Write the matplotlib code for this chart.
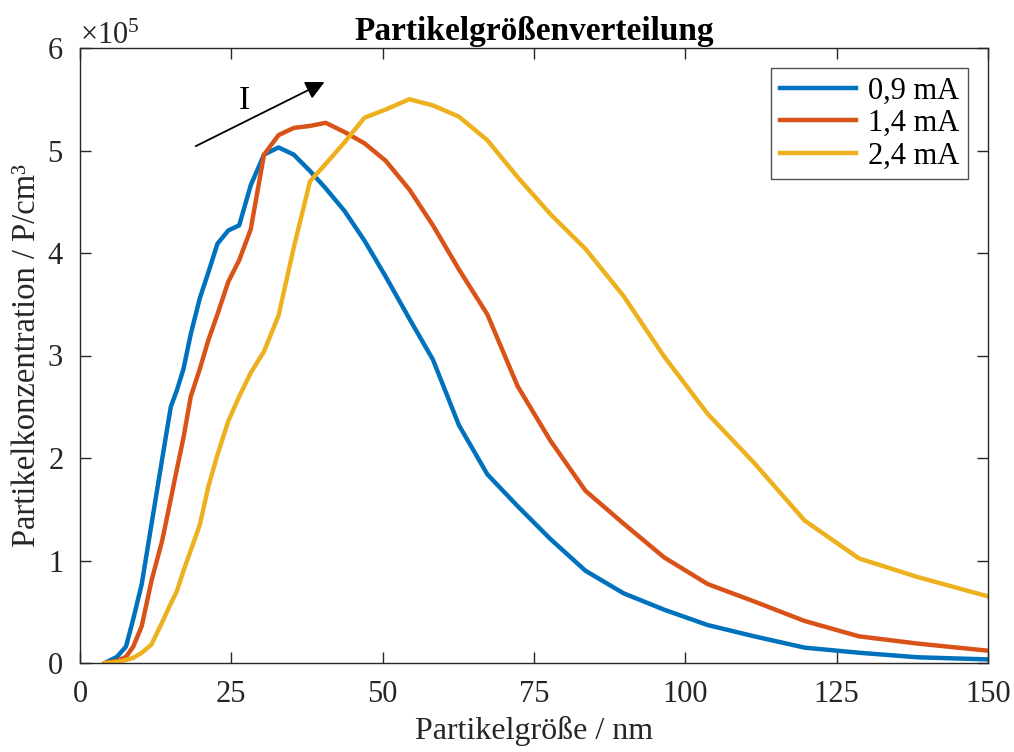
import matplotlib
matplotlib.use("Agg")
import matplotlib.pyplot as plt
import numpy as np
from matplotlib.ticker import ScalarFormatter

plt.rcParams['font.family'] = ['Liberation Serif', 'DejaVu Serif']
plt.rcParams['mathtext.fontset'] = 'custom'
plt.rcParams['mathtext.rm'] = 'Liberation Serif'
plt.rcParams['mathtext.it'] = 'Liberation Serif:italic'

# Partikelgröße in nm
groesse = [4.1, 6.1, 7.6, 8.8, 10.2, 11.8, 13.6, 15.0, 16.0, 17.1, 18.3, 19.8,
           21.2, 22.7, 24.5, 26.3, 28.2, 30.4, 32.8, 35.3, 38.0, 40.6, 43.7,
           47.0, 50.5, 54.4, 58.3, 62.6, 67.3, 72.3, 77.7, 83.5, 89.8, 96.5,
           103.7, 111.4, 119.7, 128.7, 138.3, 150.0]

# Konzentration in 1e5 P/cm^3
i_09 = [0.0, 0.06, 0.16, 0.43, 0.77, 1.35, 2.0, 2.5, 2.66, 2.87, 3.21, 3.56,
        3.81, 4.09, 4.22, 4.27, 4.66, 4.96, 5.03, 4.96, 4.80, 4.63, 4.41,
        4.12, 3.77, 3.36, 2.96, 2.32, 1.84, 1.53, 1.21, 0.90, 0.68, 0.52,
        0.37, 0.26, 0.15, 0.10, 0.056, 0.035]
i_14 = [0.0, 0.02, 0.06, 0.16, 0.36, 0.8, 1.2, 1.6, 1.89, 2.2, 2.6, 2.87,
        3.15, 3.40, 3.72, 3.93, 4.23, 4.96, 5.15, 5.22, 5.24, 5.27, 5.18,
        5.07, 4.90, 4.62, 4.27, 3.84, 3.40, 2.70, 2.17, 1.68, 1.36, 1.03,
        0.77, 0.60, 0.41, 0.26, 0.19, 0.12]
i_24 = [0.0, 0.01, 0.03, 0.05, 0.10, 0.18, 0.40, 0.58, 0.70, 0.90, 1.1, 1.35,
        1.72, 2.03, 2.36, 2.60, 2.83, 3.04, 3.39, 4.05, 4.70, 4.87, 5.08,
        5.32, 5.40, 5.50, 5.44, 5.33, 5.10, 4.74, 4.38, 4.04, 3.58, 2.99,
        2.43, 1.95, 1.39, 1.02, 0.84, 0.65]

labels = ['0,9 mA', '1,4 mA', '2,4 mA']
farben = ['#0072BD', '#D95319', '#EDB120']
ecke = (0.15, 0.15, 0.15)
fs = 22

fig = plt.figure(figsize=(10.14, 7.52), dpi=100)
ax = fig.add_axes([80/1014, 89/752, 908/1014, 615/752])

for y, lab, c in zip([i_09, i_14, i_24], labels, farben):
    ax.plot(groesse, np.array(y) * 1e5, color=c, lw=3.2, label=lab)

ax.set_xlim(0, 150)
ax.set_ylim(0, 6e5)
ax.set_xticks([0, 25, 50, 75, 100, 125, 150])
ax.set_yticks(np.arange(0, 7e5, 1e5))
fmt = ScalarFormatter(useMathText=True)
fmt.set_powerlimits((0, 0))
ax.yaxis.set_major_formatter(fmt)
ax.yaxis.get_offset_text().set_fontsize(fs)
ax.yaxis.get_offset_text().set_color(ecke)

ax.tick_params(direction='in', length=8, width=1, top=True, right=True,
               labelsize=fs, colors=ecke)
ax.tick_params(axis='x', pad=12)
ax.tick_params(axis='y', pad=12)
for s in ax.spines.values():
    s.set_color(ecke)
    s.set_linewidth(1)

ax.set_xlabel('Partikelgröße / nm', fontsize=23, color=ecke, labelpad=5)
ax.set_ylabel('Partikelkonzentration / P/cm³', fontsize=23.5, color=ecke,
              labelpad=3)
ax.set_title('Partikelgrößenverteilung', fontsize=24, fontweight='bold', pad=6)

ax.annotate('', xy=(40.8, 5.68e5), xytext=(18.7, 5.03e5),
            arrowprops=dict(arrowstyle='-|>', color='black', lw=1.3,
                            mutation_scale=28))
ax.text(27.2, 5.49e5, 'I', fontsize=24, ha='center', va='center')

leg = ax.legend(loc='upper right', fontsize=fs, frameon=True, fancybox=False,
                handlelength=2.5, handletextpad=0.4, borderpad=0.28,
                borderaxespad=0.65, labelspacing=0.12)
leg.get_frame().set_edgecolor(ecke)
leg.get_frame().set_linewidth(1)

fig.savefig('out.png', dpi=100)
